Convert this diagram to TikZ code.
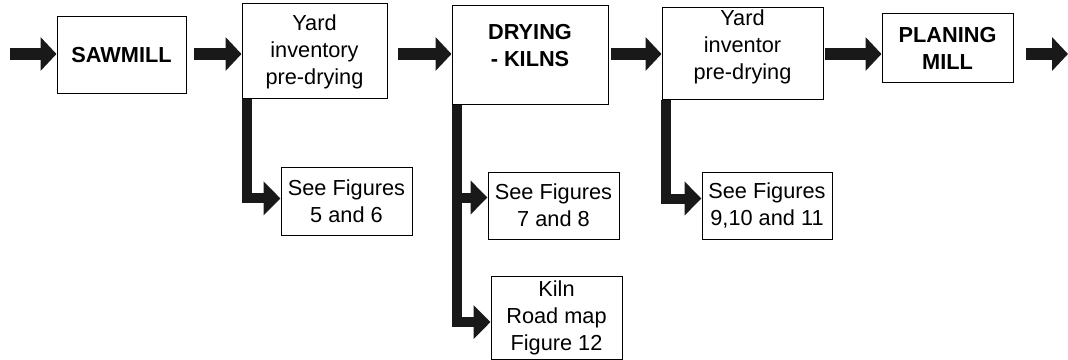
\documentclass[tikz,border=0pt]{standalone}
\usepackage{fontspec}
\setmainfont{Liberation Sans}
\usetikzlibrary{arrows.meta,positioning}
\newcommand{\boxfont}{\fontsize{16.3pt}{20.25pt}\selectfont}
\tikzset{
  stagebox/.style={draw, line width=0.75pt, align=center, inner sep=2pt, font=\boxfont},
  stagelbl/.style={align=center, font=\boxfont\bfseries},
  flowarr/.style={-{Triangle[length=12pt,width=24.75pt]}, line width=9pt, black!90},
  branch/.style={-{Triangle[length=12.75pt,width=24.75pt]}, line width=7.5pt, black!90},
}
\begin{document}
\begin{tikzpicture}[x=0.75pt, y=-0.75pt]
  \useasboundingbox (0,0) rectangle (1068,360);
  % main stages
  \node[stagebox, font=\boxfont\bfseries, minimum width=96.75pt, minimum height=57.75pt] (saw) at (121.5,55.5) {SAWMILL};
  \node[stagebox, minimum width=108.75pt, minimum height=71.25pt] (yard1) at (314.5,51.5) {Yard\\inventory\\pre-drying};
  \node[stagebox, minimum width=117pt, minimum height=74.25pt] (dry) at (530,55.5) {};
  \node[stagelbl] (drylbl) at (530,46) {DRYING\\- KILNS};
  \node[stagebox, minimum width=120.75pt, minimum height=69pt] (yard2) at (742.5,54) {};
  \node[align=center, font=\boxfont] (yard2lbl) at (742.5,47) {Yard\\inventor\\pre-drying};
  \node[stagebox, font=\boxfont\bfseries, minimum width=98.25pt, minimum height=51.75pt] (plan) at (947.5,48.5) {PLANING\\MILL};
  % side boxes
  \node[stagebox, minimum width=98.25pt, minimum height=51pt] (see56) at (346.5,201) {See Figures\\5 and 6};
  \node[stagebox, minimum width=98.25pt, minimum height=50.25pt] (see78) at (553.5,205.5) {See Figures\\7 and 8};
  \node[stagebox, minimum width=98.25pt, minimum height=62.25pt] (kiln) at (556.5,317.5) {Kiln\\Road map\\Figure 12};
  \node[stagebox, minimum width=97.5pt, minimum height=50.25pt] (see911) at (767,205.5) {See Figures\\9,10 and 11};
  % main flow
  \coordinate (in) at (10,54);
  \coordinate (out) at (1068,54);
  \draw[flowarr] (in) -- (in -| saw.west);
  \foreach \a/\b/\g in {saw/yard1/5.25, yard1/dry/7.5, dry/yard2/1.5, yard2/plan/0.75}
    \draw[flowarr, shorten <=\g pt] (in -| \a.east) -- (in -| \b.west);
  \draw[flowarr, shorten <=9pt] (in -| plan.east) -- (out);
  % branches
  \draw[branch] ([xshift=4pt]yard1.south west) |- ([yshift=1.9pt]see56.west);
  \draw[branch] ([xshift=4pt]dry.south west) |- ([yshift=6pt]see78.west);
  \draw[branch] ([xshift=4pt]dry.south west) |- ([yshift=-3.4pt]kiln.west);
  \draw[branch] ([xshift=3pt]yard2.south west) |- ([yshift=5.25pt]see911.west);
\end{tikzpicture}
\end{document}
